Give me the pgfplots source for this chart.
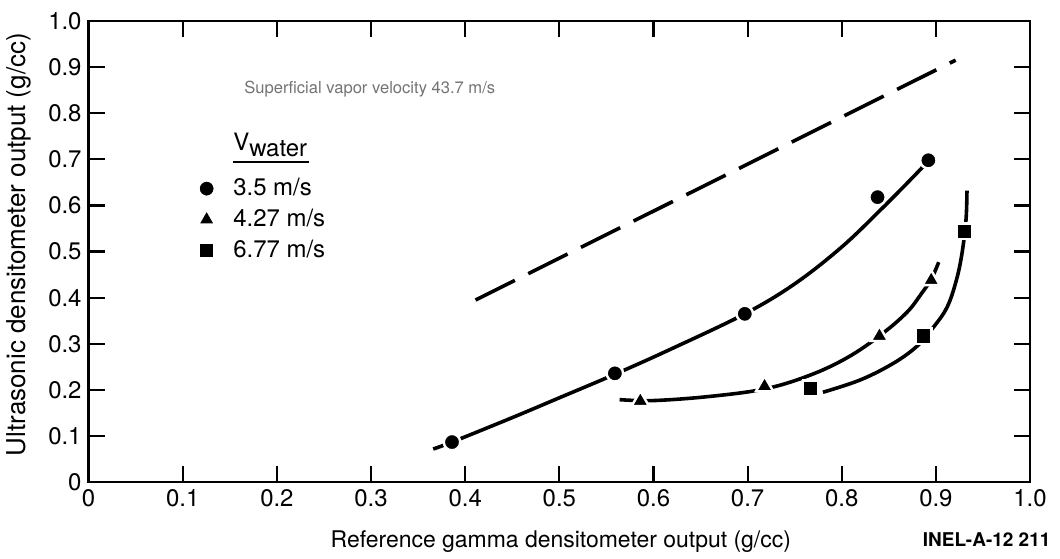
\documentclass[border=0pt]{standalone}
\usepackage{fontspec}
\setmainfont{TeX Gyre Heros}
\usepackage{pgfplots}
\pgfplotsset{compat=1.18}
\begin{document}
\begin{tikzpicture}
\begin{axis}[
  scale only axis, width=471.5pt, height=231pt,
  at={(0,0)}, anchor=south west,
  xmin=0, xmax=1, ymin=0, ymax=1,
  xtick={0,0.1,0.2,0.3,0.4,0.5,0.6,0.7,0.8,0.9,1.0},
  ytick={0,0.1,0.2,0.3,0.4,0.5,0.6,0.7,0.8,0.9,1.0},
  xticklabels={0,0.1,0.2,0.3,0.4,0.5,0.6,0.7,0.8,0.9,1.0},
  yticklabels={0,0.1,0.2,0.3,0.4,0.5,0.6,0.7,0.8,0.9,1.0},
  tick label style={font=\fontsize{12}{14}\selectfont},
  axis line style={line width=1.3pt},
  tick style={line width=1.1pt, black},
  major tick length=8pt,
  tick align=inside,
  clip=false,
  xlabel={Reference gamma densitometer output (g/cc)},
  ylabel={Ultrasonic densitometer output (g/cc)},
  xlabel style={font=\fontsize{11.5}{13}\selectfont, at={(axis description cs:0.5016,-0.128)}, anchor=center},
  ylabel style={font=\fontsize{13}{15}\selectfont, at={(axis description cs:-0.074,0.515)}, anchor=center},
  legend style={draw=none, fill=none, at={(axis cs:0.1005,0.780)}, anchor=north west,
    font=\fontsize{12}{14}\selectfont, row sep=1.2pt},
  legend cell align=left,
]
\addlegendimage{empty legend}
\addlegendentry{\rule{7pt}{0pt}\begin{tabular}{@{}l@{}}V\raisebox{-0.45ex}{water}\\[-1.2ex]\rule{38pt}{1.3pt}\rule[-12pt]{0pt}{12pt}\end{tabular}}

% dashed line
\addplot[black, line width=1.8pt, dash pattern=on 22pt off 7.5pt, forget plot] coordinates {(0.411,0.395) (0.921,0.915)};

% circle curve
\addplot[black, line width=1.8pt, smooth, tension=0.6, forget plot] coordinates {
(0.366,0.072) (0.386,0.087) (0.45,0.140) (0.50,0.183) (0.559,0.234) (0.62,0.290) (0.697,0.365) (0.75,0.430) (0.80,0.510) (0.842,0.592) (0.875,0.660) (0.889,0.690)};

% triangle curve
\addplot[black, line width=1.8pt, smooth, tension=0.6, forget plot] coordinates {
(0.564,0.179) (0.60,0.177) (0.66,0.186) (0.72,0.203) (0.77,0.235) (0.81,0.275) (0.845,0.325) (0.870,0.370) (0.885,0.410) (0.895,0.440) (0.903,0.477)};

% square curve
\addplot[black, line width=1.8pt, smooth, tension=0.6, forget plot] coordinates {
(0.780,0.195) (0.820,0.222) (0.855,0.258) (0.880,0.295) (0.897,0.335) (0.912,0.380) (0.922,0.440) (0.928,0.500) (0.932,0.570) (0.933,0.632)};

% markers
\addplot[only marks, mark=*, mark size=4.1pt, mark options={fill=black, draw=white, line width=1.2pt}] coordinates {
(0.386,0.087) (0.559,0.236) (0.697,0.365) (0.838,0.618) (0.892,0.698)};
\addlegendentry{\rule{7pt}{0pt}3.5 m/s}
\addplot[only marks, mark=triangle*, mark size=5pt, mark options={fill=black, draw=white, line width=1.2pt}] coordinates {
(0.586,0.176) (0.718,0.208) (0.840,0.317) (0.895,0.438)};
\addlegendentry{\rule{7pt}{0pt}4.27 m/s}
\addplot[only marks, mark=square*, mark size=3.9pt, mark options={fill=black, draw=white, line width=1.2pt}] coordinates {
(0.767,0.204) (0.887,0.317) (0.930,0.544)};
\addlegendentry{\rule{7pt}{0pt}6.77 m/s}

\node[anchor=west, text=black!55, font=\fontsize{8.3}{10}\selectfont] at (axis cs:0.158,0.853) {Superficial vapor velocity 43.7 m/s};
\node[anchor=east, inner sep=0pt, font=\bfseries\fontsize{9.5}{11}\selectfont] at (axis cs:1.022,-0.125) {INEL-A-12 211};
\end{axis}
\path[use as bounding box] (-43.5pt,-36.5pt) rectangle (486.5pt,241.5pt);
\end{tikzpicture}
\end{document}
